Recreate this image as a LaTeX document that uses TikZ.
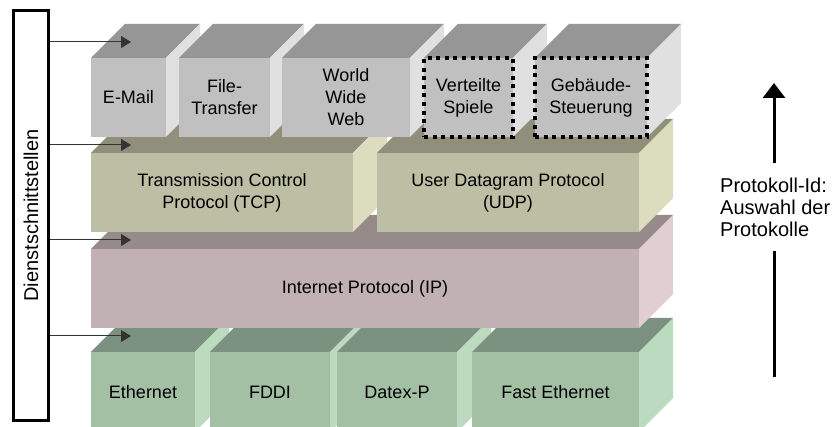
\documentclass[tikz,border=0pt]{standalone}
\usepackage{fontspec}
\setmainfont{Liberation Sans}
\usepackage{tikz}
\usetikzlibrary{arrows.meta}
\usetikzlibrary{positioning}

\definecolor{appF}{HTML}{C0C0C0}
\definecolor{appT}{HTML}{969696}
\definecolor{appS}{HTML}{E0E0E0}
\definecolor{tpF}{HTML}{BCBFA4}
\definecolor{tpT}{HTML}{8F8F7C}
\definecolor{tpS}{HTML}{DCDCBE}
\definecolor{ipF}{HTML}{C2B1B4}
\definecolor{ipT}{HTML}{968A8B}
\definecolor{ipS}{HTML}{E0CED1}
\definecolor{netF}{HTML}{A3C0A4}
\definecolor{netT}{HTML}{7C9280}
\definecolor{netS}{HTML}{BBDAC0}

% [extra] name, front corner, width, height, colour, text
\newcommand{\quader}[7][]{%
  \fill[#6T] (#3) -- ++(34,-34) -- ++(#4,0) -- ++(-34,34) -- cycle;
  \fill[#6S] (#3) ++(#4,0) -- ++(34,-34) -- ++(0,#5) -- ++(-34,34) -- cycle;
  \node[schicht, fill=#6F, minimum width=#4pt, minimum height=#5pt, #1] (#2) at (#3) {#7};
}

\begin{document}
\begin{tikzpicture}[x=1pt, y=-1pt,
    schicht/.style={anchor=north west, inner sep=0pt, outer sep=0pt, align=center, font=\fontsize{18}{22}\selectfont},
    punkte/.style={draw=black, line width=4pt, dash pattern=on 4pt off 4.6pt},
    dienst/.style={draw, line width=3pt, minimum width=35pt, minimum height=410pt, inner sep=0pt, font=\fontsize{20}{22}\selectfont},
    pfeil/.style={draw=black!80, line width=1pt, -{Triangle[length=10pt,width=12pt]}},
    hoch/.style={line width=3pt, -{Triangle[length=15pt,width=22pt]}}]
        \useasboundingbox (0,0) rectangle (839,427);
        \clip (0,0) rectangle (839,427);

        \quader{eth}{91,352}{104}{80}{net}{Ethernet}
        \quader{fddi}{210,352}{120}{80}{net}{FDDI}
        \quader{datex}{337,352}{120}{80}{net}{Datex-P}
        \quader{fast}{472,352}{167}{80}{net}{Fast Ethernet}

        \quader{ip}{91,249}{548}{79}{ip}{Internet Protocol (IP)}

        \quader{tcp}{91,153}{262}{79}{tp}{Transmission Control\\Protocol (TCP)}
        \quader{udp}{377,153}{262}{79}{tp}{User Datagram Protocol\\(UDP)}

        \quader{mail}{91,58}{75}{79}{app}{E-Mail}
        \quader{ftp}{179,58}{91}{79}{app}{File-\\Transfer}
        \quader{www}{282,58}{128}{79}{app}{World\\Wide\\Web}
        \quader[punkte]{spiele}{424,58}{89}{79}{app}{Verteilte\\Spiele}
        \quader[punkte]{haus}{535,58}{112}{79}{app}{Gebäude-\\Steuerung}

        \node[dienst] (dst) at (31,215.5) {\rotatebox{90}{Dienstschnittstellen}};
        \coordinate (e1) at (131,42);
        \coordinate (e2) at (131,145);
        \coordinate (e3) at (131,240);
        \coordinate (e4) at (131,336);
        \foreach \e in {e1,e2,e3,e4}
            \draw[pfeil] (dst.east |- \e) -- (\e);

        \node[anchor=west, align=left, inner xsep=0pt, inner ysep=14pt, font=\fontsize{20}{22}\selectfont] (pid) at (720,207) {Protokoll-Id:\\Auswahl der\\Protokolle};
        \coordinate (pt) at (774,83);
        \coordinate (pb) at (774,377);
        \draw[hoch] (pt |- pid.north) -- (pt);
        \draw[line width=3pt] (pt |- pid.south) -- (pb);
    \end{tikzpicture}
\end{document}
